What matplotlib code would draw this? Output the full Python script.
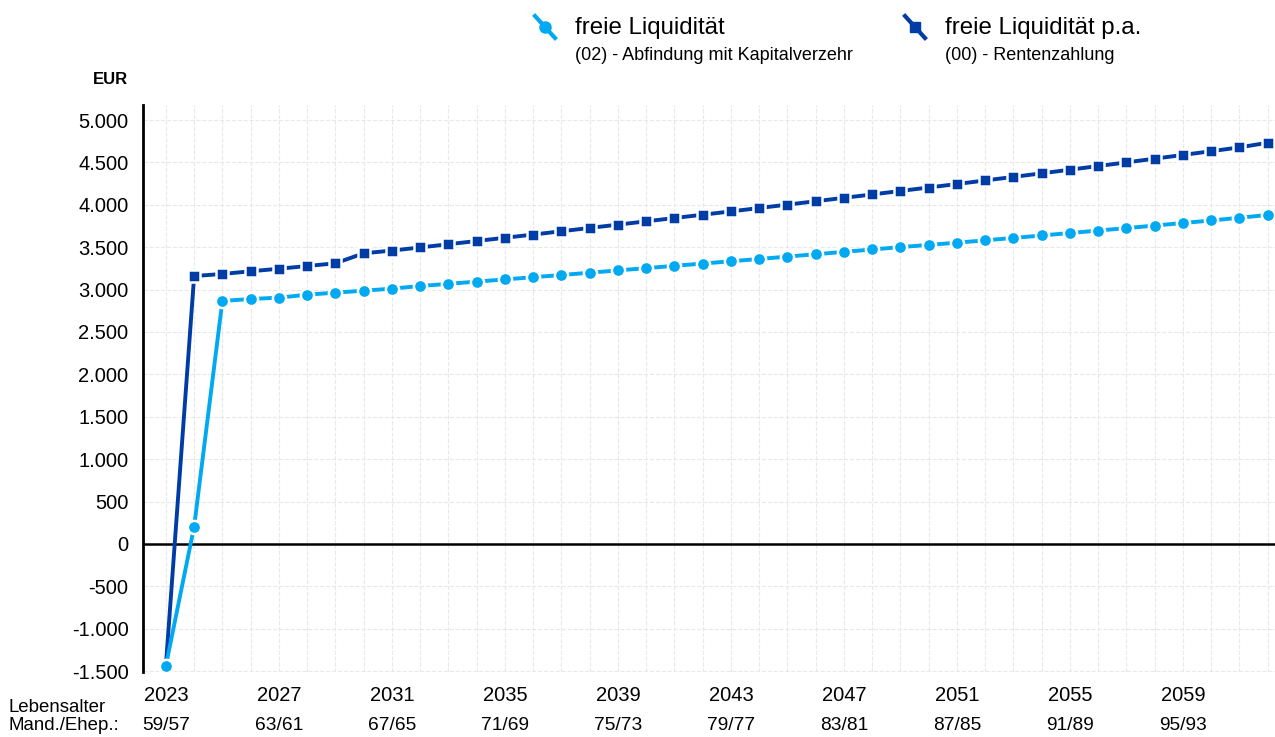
import numpy as np
import matplotlib.pyplot as plt
from matplotlib.lines import Line2D
from matplotlib.ticker import FuncFormatter, MultipleLocator
import matplotlib.transforms as mtransforms

plt.rcParams['font.family'] = ['Liberation Sans', 'DejaVu Sans']

years = list(range(2023, 2063))

# freie Liquiditaet - (02) Abfindung mit Kapitalverzehr
light = [-1435, 205, 2866, 2889, 2905, 2940, 2964, 2987, 3011, 3042,
         3068, 3094, 3120, 3146, 3172, 3199, 3226, 3253, 3280, 3307,
         3334, 3361, 3389, 3417, 3445, 3473, 3501, 3527, 3553, 3581,
         3609, 3638, 3667, 3696, 3725, 3755, 3785, 3815, 3847, 3880]

# freie Liquiditaet p.a. - (00) Rentenzahlung
dark = [-1435, 3160, 3184, 3216, 3246, 3278, 3310, 3428, 3460, 3497,
        3535, 3573, 3611, 3649, 3688, 3727, 3766, 3805, 3844, 3883,
        3922, 3962, 4002, 4042, 4082, 4122, 4163, 4204, 4245, 4287,
        4329, 4371, 4414, 4457, 4500, 4544, 4588, 4632, 4677, 4732]

tick_years = [2023, 2027, 2031, 2035, 2039, 2043, 2047, 2051, 2055, 2059]
ages = ['59/57', '63/61', '67/65', '71/69', '75/73', '79/77', '83/81', '87/85', '91/89', '95/93']

c_light = '#00a9f2'
c_dark = '#003ca6'

fig = plt.figure(figsize=(12.75, 7.37), dpi=100)
ax = fig.add_axes([143/1275, 1 - 672/737, 1 - 143/1275, (672 - 105)/737])

ax.plot(years, dark, color=c_dark, lw=2.8, marker='s', ms=8,
        mec='white', mew=1.8, zorder=4)
ax.plot(years, light, color=c_light, lw=2.8, marker='o', ms=9.5,
        mec='white', mew=1.8, zorder=5)

ax.set_xlim(2022.19, 2062.26)
ax.set_ylim(-1510, 5177)

ax.set_yticks(np.arange(-1500, 5001, 500))
ax.yaxis.set_major_formatter(FuncFormatter(lambda v, p: f'{int(v):,}'.replace(',', '.')))
ax.set_xticks(tick_years)
ax.xaxis.set_minor_locator(MultipleLocator(1))
ax.tick_params(axis='both', which='both', length=0, labelsize=14.5)
ax.tick_params(axis='y', pad=10.5)
ax.tick_params(axis='x', pad=10)

ax.grid(True, which='both', axis='x', color='#e8e8e8', ls='--', lw=0.8)
ax.grid(True, which='major', axis='y', color='#e8e8e8', ls='--', lw=0.8)
ax.set_axisbelow(True)

for s in ['top', 'right', 'bottom']:
    ax.spines[s].set_visible(False)
ax.spines['left'].set_linewidth(2)
ax.spines['left'].set_color('black')
ax.axhline(0, color='black', lw=1.8, zorder=3)

# age row under years
trans = mtransforms.blended_transform_factory(ax.transData, fig.transFigure)
for yr, a in zip(tick_years, ages):
    ax.text(yr, 1 - 726/737, a, transform=trans, ha='center', va='center', fontsize=13.8)
fig.text(8/1275, 1 - 707/737, 'Lebensalter', ha='left', va='center', fontsize=13.4)
fig.text(8/1275, 1 - 726/737, 'Mand./Ehep.:', ha='left', va='center', fontsize=13.4)

fig.text(128/1275, 1 - 80/737, 'EUR', ha='right', va='center', fontsize=12, fontweight='bold')

# legend
def legend_item(x0, color, marker, ms, title, sub):
    W, H = 1275, 737
    fig.add_artist(Line2D([x0/W, (x0 + 20)/W], [1 - 16/H, 1 - 38/H], color=color,
                          lw=3, transform=fig.transFigure))
    fig.add_artist(Line2D([(x0 + 10)/W], [1 - 27/H], color=color, marker=marker,
                          ms=ms, transform=fig.transFigure))
    fig.text((x0 + 40)/W, 1 - 28/H, title, ha='left', va='center', fontsize=17.3)
    fig.text((x0 + 40)/W, 1 - 55/H, sub, ha='left', va='center', fontsize=13)

legend_item(535, c_light, 'o', 8, 'freie Liquidität', '(02) - Abfindung mit Kapitalverzehr')
legend_item(905, c_dark, 's', 7, 'freie Liquidität p.a.', '(00) - Rentenzahlung')

fig.savefig('out.png', dpi=100)
